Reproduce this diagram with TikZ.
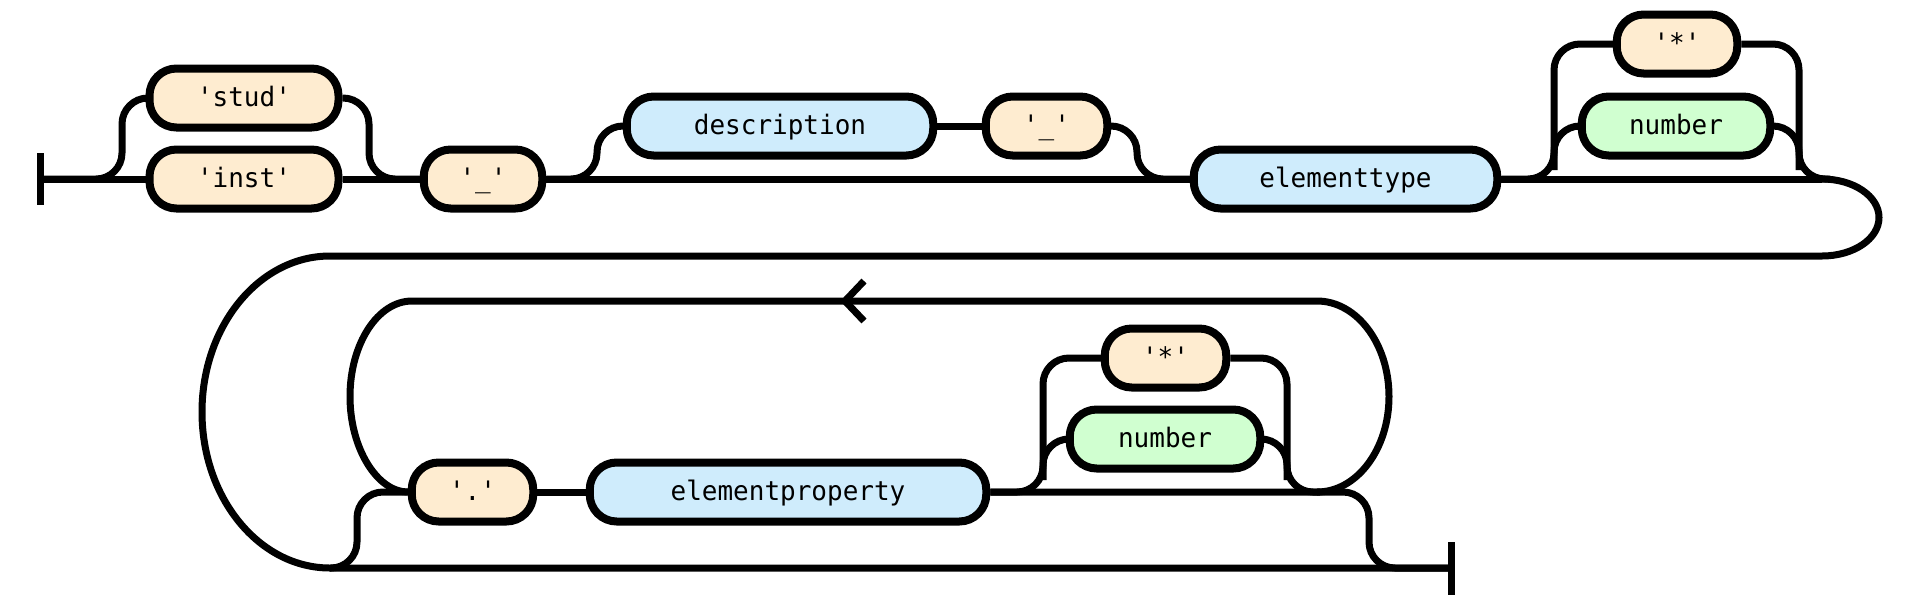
\documentclass[tikz,border=0pt]{standalone}
\usepackage{fontspec}
\usetikzlibrary{backgrounds}
\newfontfamily\rrfont[FakeStretch=0.97]{DejaVu Sans Mono}
\definecolor{termfill}{RGB}{254,236,208}
\definecolor{ntfill}{RGB}{207,236,252}
\definecolor{numfill}{RGB}{208,255,208}
\begin{document}
\begin{tikzpicture}[x=0.5pt,y=-0.5pt, line width=3.5pt,
  box/.style={draw=black, line width=4pt, rounded corners=13.5pt, minimum height=29.5pt, inner sep=0pt,
    text height=10.5pt, text depth=2pt, font=\rrfont\fontsize{13.4pt}{16pt}\selectfont},
  term/.style={box, fill=termfill},
  nonterm/.style={box, fill=ntfill},
  numb/.style={box, fill=numfill},
  wire/.style={line width=3.5pt},
  rail/.style={wire, rounded corners=13pt},
]
\useasboundingbox (0,0) rectangle (1917,607);

% row 1 nodes
\node[term, minimum width=94.5pt] (stud) at (244,98) {'stud'};
\node[term, minimum width=94.5pt] (inst) at (244,179) {'inst'};
\node[term, minimum width=59.25pt] (us1) at (483,179) {'\_'};
\node[nonterm, minimum width=153.25pt] (desc) at (780,126) {description};
\node[term, minimum width=60.75pt] (us2) at (1046.5,126) {'\_'};
\node[nonterm, minimum width=151.75pt] (etype) at (1345.5,179) {elementtype};
\node[term, minimum width=60.25pt] (star1) at (1677,44) {'*'};
\node[numb, minimum width=94.25pt] (num1) at (1676,126) {number};

% row 2 nodes
\node[term, minimum width=60.75pt] (dot) at (472.5,492) {'.'};
\node[nonterm, minimum width=198.25pt] (eprop) at (788,492) {elementproperty};
\node[term, minimum width=60.75pt] (star2) at (1165.5,358) {'*'};
\node[numb, minimum width=95.25pt] (num2) at (1165,439) {number};

% terminals of the diagram
\coordinate (s) at (40,179);
\coordinate (sT) at (40,153);
\coordinate (sB) at (40,205);
\coordinate (e) at (1451,568);
\coordinate (eT) at (1451,542);
\coordinate (eB) at (1451,595);
\coordinate (L1a) at (1822,179);
\coordinate (L1b) at (1822,256);
\coordinate (L2a) at (330,256);
\coordinate (L2b) at (330,568);
\coordinate (arr) at (845,301);

\begin{pgfonlayer}{background}
\begin{scope}[wire]
\draw[wire] (sT) -- (sB);
\draw[wire] (eT) -- (eB);

% row 1 main line
\draw[wire] (s) -- (inst);
\draw[wire] (inst) -- (us1);
\draw[wire] (us1) -- (etype);
\draw[wire] (etype.east) -- (L1a);
\draw[wire] (desc) -- (us2);

% stud / inst choice
\draw[rail] (s) -- (122,179) -- (122,98) -- (stud.west);
\draw[rail] (stud.east) -- (369,98) -- (369,179) -- (us1.west);

% optional description '_'
\draw[rail] (us1.east) -- (597,179) -- (597,126) -- (desc.west);
\draw[rail] (us2.east) -- (1137,126) -- (1137,179) -- (etype.west);

% optional '*' | number (row 1)
\draw[rail] (etype.east) -- (1554,179) -- (1554,44) -- (star1.west);
\draw[rail] (1554,170) -- (1554,126) -- (num1.west);
\draw[rail] (star1.east) -- (1799,44) -- (1799,179) -- (1830,179);
\draw[rail] (num1.east) -- (1799,126) -- (1799,170);

% wrap to row 2
\draw[wire] (L1a) .. controls (1853.5,179) and (1879,196.2) .. (1879,217.5)
  .. controls (1879,238.8) and (1853.5,256) .. (L1b) -- (L2a)
  .. controls (259.3,256) and (202,325.8) .. (202,412)
  .. controls (202,498.2) and (259.3,568) .. (L2b) -- (e);

% entry into the loop
\draw[rail] (L2b) -- (357,568) -- (357,492) -- (dot.west);
\draw[wire] (dot) -- (eprop);

% optional '*' | number (row 2)
\draw[rail] (eprop.east) -- (1043,492) -- (1043,358) -- (star2.west);
\draw[rail] (1043,480) -- (1043,439) -- (num2.west);
\draw[rail] (star2.east) -- (1287,358) -- (1287,492) -- (1320,492);
\draw[rail] (num2.east) -- (1287,439) -- (1287,480);

% exit
\draw[rail] (eprop.east) -- (1369,492) -- (1369,568) -- (e);

% loop back
\draw[wire] (1317,492) .. controls (1356.8,492) and (1389,449.2) .. (1389,396.5)
  .. controls (1389,343.8) and (1356.8,301) .. (1317,301) -- (arr) -- (412,301)
  .. controls (377.8,301) and (350,343.8) .. (350,396.5)
  .. controls (350,449.2) and (377.8,492) .. (dot.west);
\draw[wire] ([shift={(19,-20)}]arr) -- (arr) -- ([shift={(19,20)}]arr);
\end{scope}
\end{pgfonlayer}
\end{tikzpicture}
\end{document}
